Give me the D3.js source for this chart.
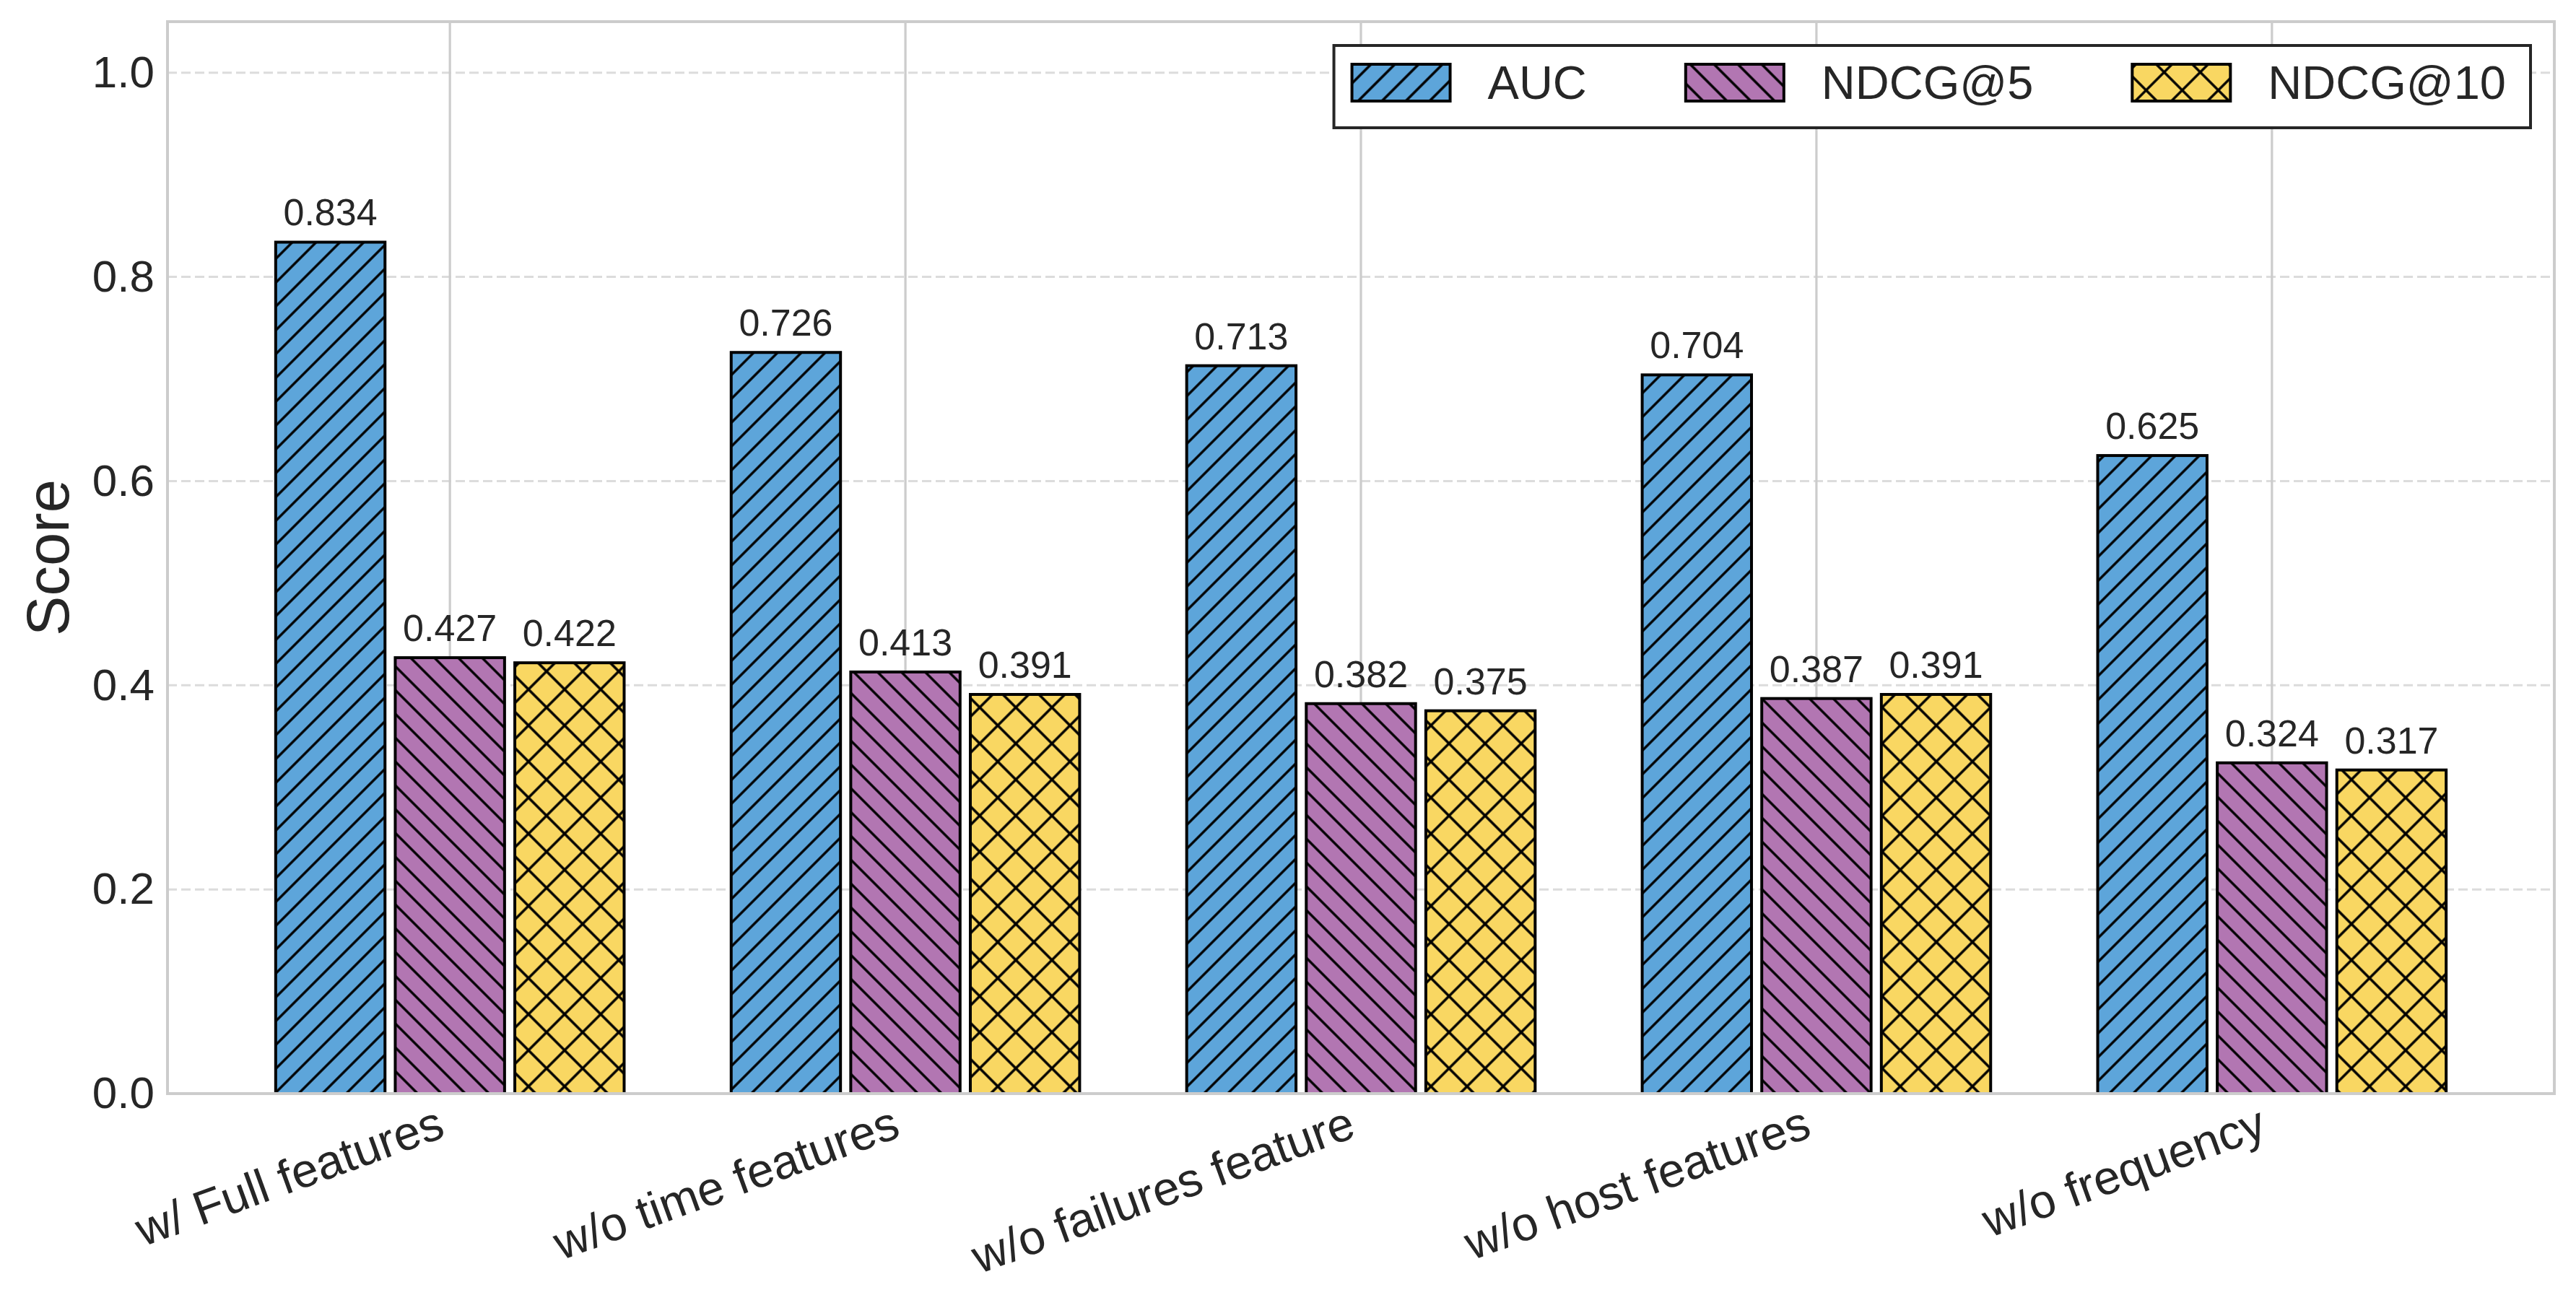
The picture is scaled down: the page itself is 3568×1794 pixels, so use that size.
<!DOCTYPE html>
<meta charset="utf-8" />

<!-- Load d3.js -->
<script src="https://d3js.org/d3.v7.min.js"></script>

<style>
    body { margin: 0; background: #fff; }
    text { font-family: 'Liberation Sans', Arial, sans-serif; fill: #262626; }
</style>

<!-- Create a div where the graph will take place -->
<div id="my_dataviz"></div>

<script>
    // data
    const categories = ['w/ Full features', 'w/o time features', 'w/o failures feature', 'w/o host features', 'w/o frequency']
    const seriesNames = ['AUC', 'NDCG@5', 'NDCG@10']
    const auc = [0.834, 0.726, 0.713, 0.704, 0.625]
    const ndcg5 = [0.427, 0.413, 0.382, 0.387, 0.324]
    const ndcg10 = [0.422, 0.391, 0.375, 0.391, 0.317]
    const yTicks = [0.0, 0.2, 0.4, 0.6, 0.8, 1.0]

    const seriesValues = [auc, ndcg5, ndcg10]
    const colors = ['#5DA5DA', '#B276B2', '#F9D762']
    const hatches = ['fwd', 'back', 'cross']

    // dimensions of the figure and plot area
    const W = 3568, H = 1794
    const margin = { top: 30, right: 30, bottom: 279, left: 232 }
    const width = W - margin.left - margin.right
    const height = H - margin.top - margin.bottom

    const svg = d3
        .select('#my_dataviz')
        .append('svg')
        .attr('width', W)
        .attr('height', H)

    // hatch patterns (background colour + black lines)
    const defs = svg.append('defs')
    hatches.forEach((h, i) => {
        const s = h === 'cross' ? 50 / Math.SQRT2 : 33 / Math.SQRT2
        const p = defs.append('pattern')
            .attr('id', 'hatch' + i)
            .attr('patternUnits', 'userSpaceOnUse')
            .attr('width', s)
            .attr('height', s)
            .attr('patternTransform', h === 'back' ? 'rotate(-45)' : 'rotate(45)')
        p.append('rect').attr('width', s).attr('height', s).attr('fill', colors[i])
        p.append('line')
            .attr('x1', s / 2).attr('x2', s / 2)
            .attr('y1', -1).attr('y2', s + 1)
            .attr('stroke', '#000').attr('stroke-width', 3.4)
        if (h === 'cross') {
            p.append('line')
                .attr('x1', -1).attr('x2', s + 1)
                .attr('y1', s / 2).attr('y2', s / 2)
                .attr('stroke', '#000').attr('stroke-width', 3.4)
        }
    })

    const g = svg.append('g')
        .attr('transform', `translate(${margin.left},${margin.top})`)

    // scales
    const x = d3.scaleLinear().domain([-0.62, 4.62]).range([0, width])
    const y = d3.scaleLinear().domain([0, 1.05]).range([height, 0])
    const barW = 0.24, offset = 0.2625

    // grid lines
    g.selectAll('.hgrid')
        .data(yTicks)
        .join('line')
        .attr('class', 'hgrid')
        .attr('x1', 0).attr('x2', width)
        .attr('y1', (d) => y(d)).attr('y2', (d) => y(d))
        .attr('stroke', '#dcdcdc')
        .attr('stroke-width', 3)
        .attr('stroke-dasharray', '13,6')

    g.selectAll('.vgrid')
        .data(categories)
        .join('line')
        .attr('class', 'vgrid')
        .attr('x1', (d, i) => x(i)).attr('x2', (d, i) => x(i))
        .attr('y1', 0).attr('y2', height)
        .attr('stroke', '#cccccc')
        .attr('stroke-width', 3.2)

    // y axis tick labels
    const yAxis = g.append('g')
        .call(d3.axisLeft(y).tickValues(yTicks).tickFormat(d3.format('.1f')).tickSize(0).tickPadding(18))
    yAxis.select('.domain').remove()
    yAxis.selectAll('text')
        .attr('font-size', '62px')
        .attr('font-family', null)
        .attr('fill', '#262626')

    // x axis tick labels, rotated
    const xAxis = g.append('g')
        .attr('transform', `translate(0,${height})`)
        .call(d3.axisBottom(x).tickValues(d3.range(categories.length)).tickFormat((d) => categories[d]).tickSize(0))
    xAxis.select('.domain').remove()
    xAxis.selectAll('text')
        .attr('font-size', '66px')
        .attr('font-family', null)
        .attr('fill', '#262626')
        .attr('text-anchor', 'end')
        .attr('dy', null)
        .attr('y', 0)
        .attr('transform', 'translate(-5,59) rotate(-20)')

    // bars
    seriesValues.forEach((vals, s) => {
        const bars = g.selectAll('.bar' + s)
            .data(vals)
            .join('g')
            .attr('class', 'bar' + s)

        bars.append('rect')
            .attr('x', (d, i) => x(i + (s - 1) * offset - barW / 2))
            .attr('y', (d) => y(d))
            .attr('width', x(barW) - x(0))
            .attr('height', (d) => y(0) - y(d))
            .attr('fill', `url(#hatch${s})`)
            .attr('stroke', '#000')
            .attr('stroke-width', 4)

        bars.append('text')
            .attr('x', (d, i) => x(i + (s - 1) * offset))
            .attr('y', (d) => y(d) - 23)
            .attr('text-anchor', 'middle')
            .attr('font-size', '52px')
            .text((d) => d.toFixed(3))
    })

    // spines
    g.append('rect')
        .attr('width', width)
        .attr('height', height)
        .attr('fill', 'none')
        .attr('stroke', '#cccccc')
        .attr('stroke-width', 4)

    // y label
    svg.append('text')
        .attr('transform', `translate(95,${margin.top + height / 2}) rotate(-90)`)
        .attr('text-anchor', 'middle')
        .attr('font-size', '83px')
        .text('Score')

    // legend, right aligned in the upper right corner
    const legend = svg.append('g')
    const frame = legend.append('rect')
    const patchW = 136, patchH = 51, textPad = 52, colGap = 137
    let lx = 0
    const items = []
    seriesNames.forEach((name, i) => {
        const it = legend.append('g')
        it.append('rect')
            .attr('x', lx).attr('y', 89)
            .attr('width', patchW).attr('height', patchH)
            .attr('fill', `url(#hatch${i})`)
            .attr('stroke', '#000')
            .attr('stroke-width', 4)
        const t = it.append('text')
            .attr('x', lx + patchW + textPad)
            .attr('y', 137)
            .attr('font-size', '65px')
            .text(name)
        lx += patchW + textPad + t.node().getComputedTextLength() + colGap
        items.push(it)
    })
    const innerW = lx - colGap
    const frameRight = 3505, padL = 25, padR = 34
    const frameLeft = frameRight - innerW - padL - padR
    items.forEach((it) => it.attr('transform', `translate(${frameLeft + padL},0)`))
    frame
        .attr('x', frameLeft).attr('y', 63)
        .attr('width', frameRight - frameLeft).attr('height', 114)
        .attr('fill', '#fff')
        .attr('stroke', '#262626')
        .attr('stroke-width', 4)
</script>
